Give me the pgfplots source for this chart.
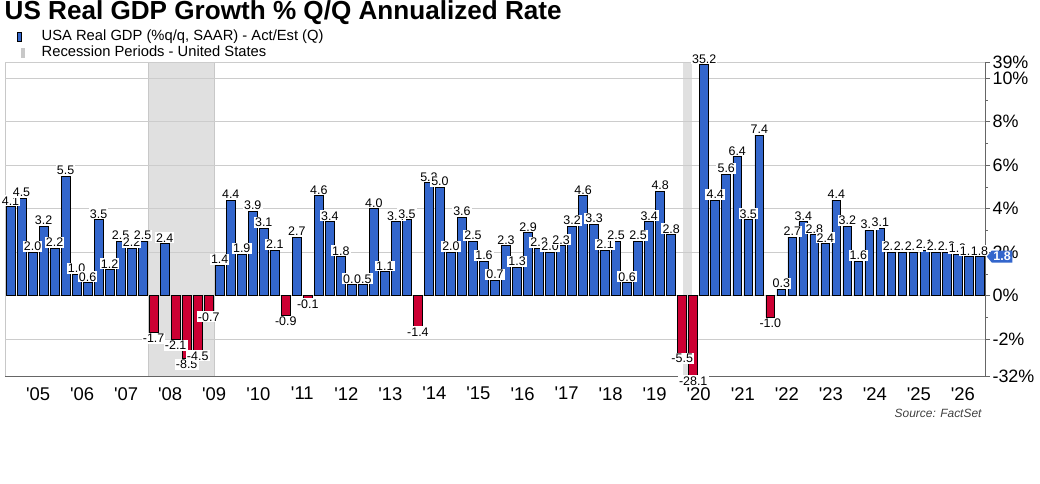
\documentclass[border=0pt]{standalone}
\usepackage{pgfplots}
\pgfplotsset{compat=1.18}
\usepackage{fontspec}
\setmainfont{Liberation Sans}[Ligatures=TeXOff]
\usetikzlibrary{shapes.symbols}
\definecolor{gdpblue}{HTML}{3366CC}
\definecolor{gdpred}{HTML}{CC0033}
\definecolor{recgray}{HTML}{E0E0E0}
\definecolor{recedge}{HTML}{C8C8C8}
\definecolor{gridgray}{HTML}{CCCCCC}
\definecolor{axgray}{HTML}{666666}
\begin{document}
\begin{tikzpicture}[x=1bp,y=1bp]
\useasboundingbox (0,0) rectangle (1040,484);
\node[anchor=base west, inner sep=0] at (4.5,464.5) {\fontsize{26.2}{30}\selectfont\bfseries US Real GDP Growth \% Q/Q Annualized Rate};
\filldraw[fill=gdpblue, draw=black, line width=0.6bp] (17.3,442.3) rectangle (21.7,451.3);
\node[anchor=base west, inner sep=0] at (41.5,443.3) {\fontsize{14.8}{16}\selectfont USA Real GDP (\%q/q, SAAR) - Act/Est (Q)};
\fill[recedge] (20.7,426) rectangle (25,436);
\node[anchor=base west, inner sep=0] at (41.5,427.3) {\fontsize{14.8}{16}\selectfont Recession Periods - United States};
% recession shading (background, behind the axis grid)
\fill[recgray] (148.1,107.3) rectangle (214.2,421.3);
\draw[recedge, line width=0.8bp] (148.1,107.3) -- (148.1,421.3);
\draw[recedge, line width=0.8bp] (214.2,107.3) -- (214.2,421.3);
\fill[recgray] (682.5,107.3) rectangle (691.5,421.3);
\draw[recedge, line width=0.8bp] (5,107.3) -- (5,421.3);
\begin{axis}[
  at={(5bp,107.3bp)}, anchor=south west, scale only axis,
  width=980bp, height=314bp,
  clip=false,
  xmin=-0.5, xmax=88.5, ymin=-3.726, ymax=10.72,
  y filter/.expression={min(max(y,-2),10)+max(y-10,0)*0.72/29-0.6225*ln(max(-y,2)/2)},
  axis x line*=bottom, axis y line*=right,
  axis line style={axgray, line width=0.8bp},
  tick align=outside,
  major tick length=5bp, minor tick length=3bp,
  tick style={axgray, line width=0.8bp},
  ytick={-3.726,-2,0,2,4,6,8,10,10.72},
  yticklabels={-32\%,-2\%,0\%,2\%,4\%,6\%,8\%,10\%,39\%},
  minor ytick={-1,1,3,5,7,9},
  yticklabel style={font=\fontsize{18}{18}\selectfont, text=black, xshift=-1bp},
  ymajorgrids, grid style={gridgray, line width=0.8bp},
  xtick={2.5,6.5,...,86.5},
  xticklabels={'05,'06,'07,'08,'09,'10,'11,'12,'13,'14,'15,'16,'17,'18,'19,'20,'21,'22,'23,'24,'25,'26},
  xtick style={draw=none},
  xticklabel style={font=\fontsize{18.5}{19}\selectfont, text=black, yshift=-2bp},
  extra x ticks={0.5,4.5,...,88.5},
  extra x tick labels={},
  extra x tick style={tick style={draw=axgray, line width=0.8bp}, major tick length=6bp, xmajorgrids=false},
  ybar, bar width=0.8,
  point meta=explicit symbolic,
  nodes near coords,
  every node near coord/.append style={font=\fontsize{12.5}{13}\selectfont, fill=white, inner sep=1.1bp, text=black},
]
\addplot[bar shift=0pt, fill=gdpblue, draw=black, line width=0.7bp,
  every node near coord/.append style={anchor=south}] coordinates {
(0,4.1)[4.1] (1,4.5)[4.5] (2,2.0)[2.0] (3,3.2)[3.2] (4,2.2)[2.2]
(5,5.5)[5.5] (6,1.0)[1.0] (7,0.6)[0.6] (8,3.5)[3.5]
(9,1.2)[1.2] (10,2.5)[2.5] (11,2.2)[2.2] (12,2.5)[2.5]
(14,2.4)[2.4]
(19,1.4)[1.4] (20,4.4)[4.4]
(21,1.9)[1.9] (22,3.9)[3.9] (23,3.1)[3.1] (24,2.1)[2.1]
(26,2.7)[2.7] (28,4.6)[4.6]
(29,3.4)[3.4] (30,1.8)[1.8] (31,0.5)[0.5] (32,0.5)[0.5]
(33,4.0)[4.0] (34,1.1)[1.1] (35,3.4)[3.4] (36,3.5)[3.5]
(38,5.2)[5.2] (39,5.0)[5.0] (40,2.0)[2.0]
(41,3.6)[3.6] (42,2.5)[2.5] (43,1.6)[1.6] (44,0.7)[0.7]
(45,2.3)[2.3] (46,1.3)[1.3] (47,2.9)[2.9] (48,2.2)[2.2]
(49,2.0)[2.0] (50,2.3)[2.3] (51,3.2)[3.2] (52,4.6)[4.6]
(53,3.3)[3.3] (54,2.1)[2.1] (55,2.5)[2.5] (56,0.6)[0.6]
(57,2.5)[2.5] (58,3.4)[3.4] (59,4.8)[4.8] (60,2.8)[2.8]
(63,35.2)[35.2] (64,4.4)[4.4]
(65,5.6)[5.6] (66,6.4)[6.4] (67,3.5)[3.5] (68,7.4)[7.4]
(70,0.3)[0.3] (71,2.7)[2.7] (72,3.4)[3.4]
(73,2.8)[2.8] (74,2.4)[2.4] (75,4.4)[4.4] (76,3.2)[3.2]
(77,1.6)[1.6] (78,3.0)[3.0] (79,3.1)[3.1] (80,2.0)[2.0]
(81,2.0)[2.0] (82,2.0)[2.0] (83,2.1)[2.1] (84,2.0)[2.0]
(85,2.0)[2.0] (86,1.9)[1.9] (87,1.8)[1.8] (88,1.8)[1.8]
};
\addplot[bar shift=0pt, fill=gdpred, draw=black, line width=0.7bp,
  every node near coord/.append style={anchor=north}] coordinates {
(13,-1.7)[-1.7] (15,-2.1)[-2.1] (16,-8.5)[-8.5] (17,-4.5)[-4.5] (18,-0.7)[-0.7]
(25,-0.9)[-0.9] (27,-0.1)[-0.1] (37,-1.4)[-1.4]
(61,-5.5)[-5.5] (62,-28.1)[-28.1] (69,-1.0)[-1.0]
};
\coordinate (lastval) at (axis cs:88.5,1.8);
\end{axis}
\node[signal, signal to=west, signal pointer angle=100, fill=gdpblue, text=white, inner sep=1.6bp, anchor=west,
  font=\fontsize{12.5}{13}\selectfont\bfseries] at ([xshift=1.5bp]lastval) {1.8};
\node[anchor=base east, inner sep=0, text=black!75] at (981.7,66) {\fontsize{12}{13}\selectfont\itshape Source: FactSet};
\end{tikzpicture}
\end{document}
